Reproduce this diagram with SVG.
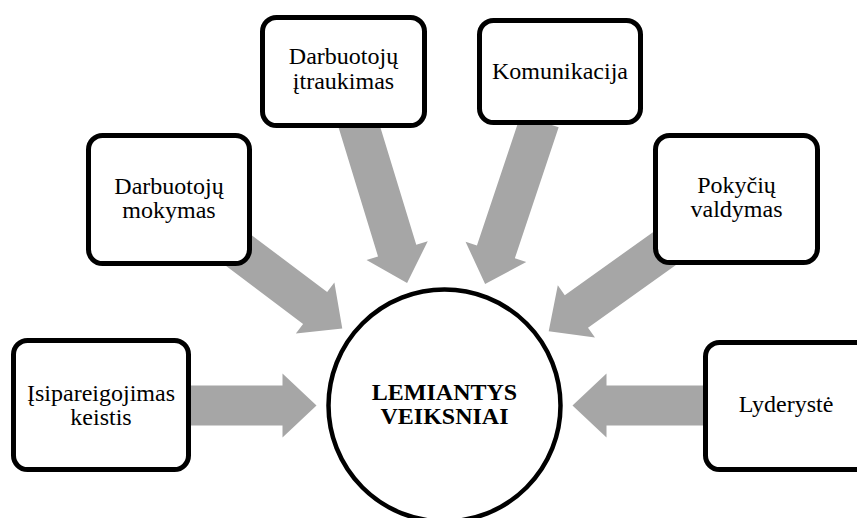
<svg xmlns="http://www.w3.org/2000/svg" width="857" height="518" viewBox="0 0 857 518">
<style>
.arrow{fill:#a6a6a6;stroke:none}
.box{fill:#ffffff;stroke:#000000;stroke-width:5}
.lbl{font-size:24px;fill:#000000;text-anchor:middle}
.ctr{font-size:24px;font-weight:bold;fill:#000000;text-anchor:middle}
</style>
<defs>
<polygon id="arr" points="-300,-20 -162,-20 -162,-32 -128,0 -162,32 -162,20 -300,20"/>
</defs>
<rect width="857" height="518" fill="#ffffff"/>
<g id="connectors" class="arrow" transform="translate(444.5,405.5)">
<use href="#arr" transform="rotate(0)"/>
<use href="#arr" transform="rotate(37)"/>
<use href="#arr" transform="rotate(73)"/>
<use href="#arr" transform="rotate(108.5)"/>
<use href="#arr" transform="rotate(144.5)"/>
<use href="#arr" transform="rotate(180)"/>
</g>
<g font-family="'Liberation Serif', 'DejaVu Serif', serif">
<g id="n-isipareigojimas">
<rect class="box" x="13.5" y="340.5" width="175" height="129" rx="14"/>
<text class="lbl" x="101" y="401">Įsipareigojimas</text>
<text class="lbl" x="101" y="425">keistis</text>
</g>
<g id="n-mokymas">
<rect class="box" x="88.5" y="135.5" width="161" height="128" rx="14"/>
<text class="lbl" x="169" y="194">Darbuotojų</text>
<text class="lbl" x="169" y="218">mokymas</text>
</g>
<g id="n-itraukimas">
<rect class="box" x="262.5" y="17.5" width="162" height="108" rx="14"/>
<text class="lbl" x="343.5" y="64">Darbuotojų</text>
<text class="lbl" x="343.5" y="89">įtraukimas</text>
</g>
<g id="n-komunikacija">
<rect class="box" x="479.5" y="20.5" width="161" height="102" rx="14"/>
<text class="lbl" x="560" y="79">Komunikacija</text>
</g>
<g id="n-pokyciu">
<rect class="box" x="655.5" y="135.5" width="162" height="127" rx="14"/>
<text class="lbl" x="736.5" y="193">Pokyčių</text>
<text class="lbl" x="736.5" y="217">valdymas</text>
</g>
<g id="n-lyderyste">
<rect class="box" x="705.5" y="342.5" width="165" height="127" rx="14"/>
<text class="lbl" x="786" y="412">Lyderystė</text>
</g>
<g id="n-center">
<circle cx="444.5" cy="405.5" r="116" fill="#ffffff" stroke="#000000" stroke-width="4.5"/>
<text class="ctr" x="444.5" y="400">LEMIANTYS</text>
<text class="ctr" x="444.5" y="424">VEIKSNIAI</text>
</g>
</g>
</svg>
